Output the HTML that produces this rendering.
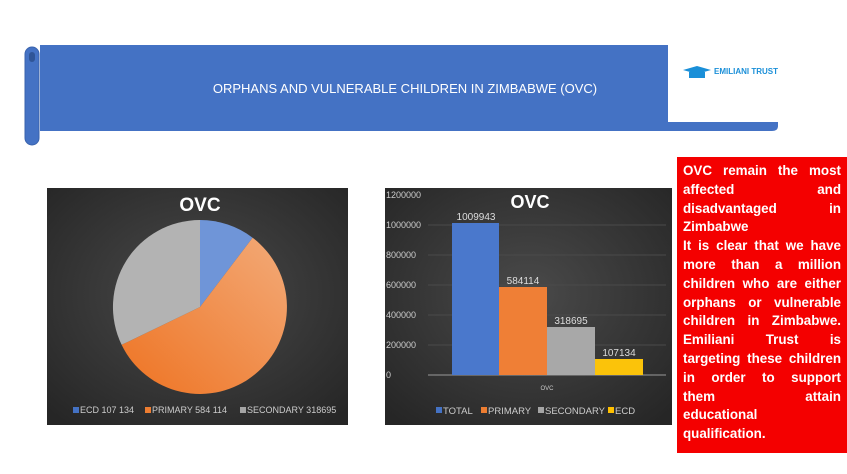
<!DOCTYPE html>
<html><head><meta charset="utf-8"><style>
body{margin:0;width:847px;height:474px;background:#fff;position:relative;overflow:hidden;font-family:"Liberation Sans",sans-serif}
.abs{position:absolute}
#red{left:677px;top:157px;width:158px;height:284px;padding:5px 6px 7px 6px;background:#f40000;color:#fff;font-weight:bold;font-size:13.4px;line-height:18.8px}
#red div{text-align:justify;text-align-last:justify;white-space:nowrap}
#red div.l{text-align-last:left}
</style></head><body>
<svg class="abs" style="left:0;top:0" width="847" height="474">
<defs>
<radialGradient id="bg" cx="50%" cy="45%" r="70%"><stop offset="0" stop-color="#4a4a4a"/><stop offset="1" stop-color="#262626"/></radialGradient>
<linearGradient id="po" x1="0" y1="1" x2="1" y2="0"><stop offset="0" stop-color="#ee7322"/><stop offset="1" stop-color="#f3aa78"/></linearGradient>
</defs>
<path d="M36 45 H778 V126 Q778 131 772 131 H40 V45 Z" fill="#4472c4"/>
<rect x="25" y="47" width="14" height="98" rx="7" fill="#4472c4" stroke="#3a63ad"/>
<rect x="29" y="52" width="6" height="10" rx="3" fill="#2f5597"/>
<rect x="668" y="18" width="152" height="104" fill="#fff"/>
<text x="405" y="93" fill="#fff" font-size="13" text-anchor="middle">ORPHANS AND VULNERABLE CHILDREN IN ZIMBABWE (OVC)</text>
<path d="M683 70 L697 66 L711 70 L697 74 Z" fill="#1a8fd8"/><rect x="689" y="72" width="16" height="6" fill="#1a8fd8"/>
<text x="714" y="74" fill="#1a8fd8" font-size="8" font-weight="bold">EMILIANI TRUST</text>
<rect x="47" y="188" width="301" height="237" fill="url(#bg)"/>
<text x="200" y="211" fill="#fff" font-size="19" font-weight="bold" text-anchor="middle">OVC</text>
<path d="M200 307 L200 220 A87 87 0 0 1 252.6 237.7 Z" fill="#6f95d8"/>
<path d="M200 307 L252.6 237.7 A87 87 0 1 1 121.6 344.8 Z" fill="url(#po)"/>
<path d="M200 307 L121.6 344.8 A87 87 0 0 1 200 220 Z" fill="#b3b3b3"/>
<rect x="73" y="407" width="6" height="6" fill="#4472c4"/><text x="80" y="413" fill="#ccc" font-size="9">ECD 107 134</text>
<rect x="145" y="407" width="6" height="6" fill="#ed7d31"/><text x="152" y="413" fill="#ccc" font-size="9">PRIMARY 584 114</text>
<rect x="240" y="407" width="6" height="6" fill="#a5a5a5"/><text x="247" y="413" fill="#ccc" font-size="9">SECONDARY 318695</text>
<rect x="385" y="188" width="287" height="237" fill="url(#bg)"/>
<g stroke="#4a4a4a" stroke-width="1">
<line x1="428" y1="225" x2="666" y2="225"/><line x1="428" y1="255" x2="666" y2="255"/><line x1="428" y1="285" x2="666" y2="285"/><line x1="428" y1="315" x2="666" y2="315"/><line x1="428" y1="345" x2="666" y2="345"/></g>
<line x1="428" y1="375" x2="666" y2="375" stroke="#999"/>
<g fill="#ccc" font-size="9">
<text x="386" y="198">1200000</text><text x="386" y="228">1000000</text><text x="386" y="258">800000</text><text x="386" y="288">600000</text><text x="386" y="318">400000</text><text x="386" y="348">200000</text><text x="386" y="378">0</text></g>
<text x="530" y="208" fill="#fff" font-size="18" font-weight="bold" text-anchor="middle">OVC</text>
<rect x="452" y="223" width="47" height="152" fill="#4a78cc"/>
<rect x="499" y="287" width="48" height="88" fill="#ef7f36"/>
<rect x="547" y="327" width="48" height="48" fill="#a8a8a8"/>
<rect x="595" y="359" width="48" height="16" fill="#fbc30a"/>
<g fill="#ddd" font-size="10" text-anchor="middle">
<text x="476" y="220">1009943</text><text x="523" y="284">584114</text><text x="571" y="324">318695</text><text x="619" y="356">107134</text></g>
<text x="547" y="390" fill="#ccc" font-size="6" text-anchor="middle">OVC</text>
<g fill="#ccc" font-size="9.5">
<rect x="436" y="407" width="6" height="6" fill="#4472c4"/><text x="443" y="414">TOTAL</text>
<rect x="481" y="407" width="6" height="6" fill="#ed7d31"/><text x="488" y="414">PRIMARY</text>
<rect x="538" y="407" width="6" height="6" fill="#a5a5a5"/><text x="545" y="414">SECONDARY</text>
<rect x="608" y="407" width="6" height="6" fill="#ffc000"/><text x="615" y="414">ECD</text></g>
</svg>
<div id="red" class="abs">
<div>OVC remain the most</div>
<div>affected and</div>
<div>disadvantaged in</div>
<div class="l">Zimbabwe</div>
<div>It is clear that we have</div>
<div>more than a million</div>
<div>children who are either</div>
<div>orphans or vulnerable</div>
<div>children in Zimbabwe.</div>
<div>Emiliani Trust is</div>
<div>targeting these children</div>
<div>in order to support</div>
<div>them attain</div>
<div class="l">educational</div>
<div class="l">qualification.</div>
</div>
</body></html>
